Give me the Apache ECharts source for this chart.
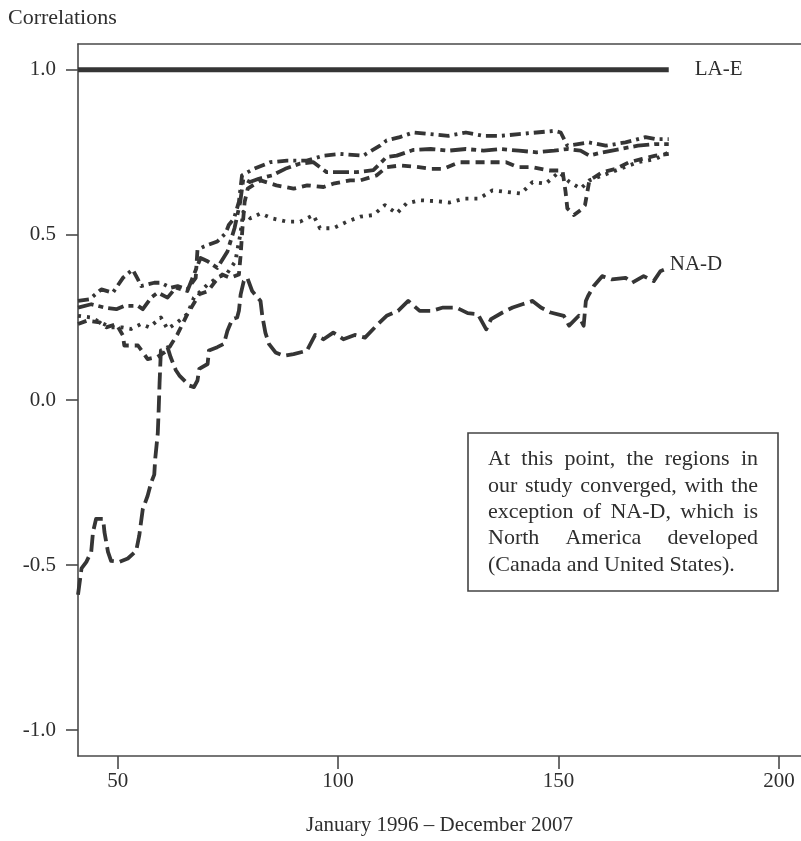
<!DOCTYPE html>
<html>
<head>
<meta charset="utf-8">
<script src="https://cdn.jsdelivr.net/npm/echarts@6/dist/echarts.min.js"></script>
<style>
html,body{margin:0;padding:0;background:#fff;}
#chart{width:801px;height:841px;}
</style>
</head>
<body>
<div id="chart"></div>
<script>
// ---- data ----
const xTicks = [50, 100, 150, 200];
const yTicks = [-1, -0.5, 0, 0.5, 1];

const laE = [[41, 1], [60, 1], [80, 1], [100, 1], [120, 1], [140, 1], [160, 1], [175, 1]];

const naD = [[41,-0.59],[41.8,-0.51],[42.9,-0.49],[44,-0.46],[44.4,-0.40],[45.1,-0.36],[46.7,-0.36],[47,-0.40],[47.8,-0.46],[48.5,-0.487],[50.4,-0.49],[52.3,-0.48],[54.2,-0.457],[54.9,-0.41],[55.7,-0.33],[56.8,-0.29],[57.6,-0.25],[58.3,-0.226],[58.5,-0.18],[59.1,-0.10],[59.3,-0.03],[59.5,0.05],[59.8,0.15],[60.3,0.15],[61.3,0.16],[62,0.13],[63.2,0.09],[64,0.074],[66.2,0.044],[67.3,0.039],[68.1,0.059],[68.5,0.094],[70.4,0.109],[70.7,0.15],[72.6,0.16],[74.1,0.17],[74.9,0.21],[76,0.245],[77.1,0.25],[77.5,0.27],[77.9,0.32],[78.6,0.36],[79.4,0.37],[80.5,0.33],[82.4,0.30],[82.8,0.255],[83.5,0.204],[84.3,0.17],[85.8,0.144],[87.6,0.134],[89.9,0.139],[92.9,0.149],[94.8,0.197],[96.7,0.184],[98.9,0.204],[101.2,0.184],[103.8,0.197],[106.1,0.189],[108.7,0.225],[111,0.255],[113.6,0.27],[115.9,0.30],[118.5,0.27],[121.2,0.27],[123.8,0.28],[126.8,0.28],[129.4,0.263],[131.7,0.26],[133.6,0.214],[134.7,0.245],[137.3,0.265],[139.6,0.28],[141.8,0.29],[144.1,0.30],[146,0.28],[148.2,0.265],[151.2,0.255],[152.4,0.225],[154.6,0.255],[155.7,0.225],[156.2,0.30],[156.7,0.315],[158,0.345],[159.9,0.375],[162.1,0.365],[165.2,0.37],[166.7,0.355],[169.3,0.375],[171.6,0.36],[173.1,0.39],[175,0.40]];

const s1 = [[41,0.30],[43.6,0.305],[46.3,0.335],[48.9,0.325],[51.2,0.37],[53.4,0.395],[54.6,0.365],[55.3,0.345],[58.3,0.355],[59.8,0.355],[62,0.34],[63.6,0.345],[65.8,0.335],[67.7,0.37],[68.1,0.455],[69.6,0.465],[72.6,0.48],[74.5,0.505],[75.2,0.53],[76.4,0.55],[77.5,0.60],[78.2,0.68],[79.5,0.69],[80.9,0.70],[84.6,0.72],[88.4,0.725],[92.9,0.725],[96.7,0.74],[100.4,0.745],[105.7,0.74],[109.5,0.77],[111,0.786],[114,0.796],[117,0.81],[121,0.805],[125,0.80],[129,0.81],[133,0.80],[137,0.80],[141,0.805],[145,0.81],[149,0.815],[150.5,0.81],[152,0.77],[156.9,0.78],[160.7,0.77],[165.2,0.78],[169.7,0.796],[172,0.79],[175,0.79]];

const s2 = [[41,0.28],[44,0.29],[47,0.28],[49.7,0.275],[51.5,0.285],[54.6,0.285],[55.7,0.275],[57.6,0.31],[59.1,0.325],[61.3,0.31],[63.2,0.34],[65.8,0.33],[68.8,0.43],[70.4,0.42],[72.6,0.40],[74.9,0.45],[76.5,0.52],[77.8,0.60],[78.5,0.67],[80,0.66],[82,0.67],[85,0.68],[88,0.70],[91.4,0.716],[94.4,0.72],[97.4,0.69],[101.2,0.69],[104.2,0.69],[108,0.696],[111,0.736],[113.3,0.74],[117,0.757],[121,0.76],[125,0.755],[129,0.76],[133,0.755],[137,0.76],[141,0.755],[145,0.75],[149,0.755],[152,0.76],[155,0.755],[157,0.74],[160,0.75],[164,0.76],[168,0.77],[172,0.775],[175,0.775]];

const s3 = [[41,0.23],[43,0.24],[45.9,0.235],[47.4,0.22],[49.7,0.23],[51.2,0.195],[51.5,0.165],[54.6,0.165],[56.8,0.124],[59,0.13],[61.3,0.15],[63.6,0.20],[65.8,0.26],[68.5,0.32],[70.5,0.33],[72.2,0.36],[73.7,0.38],[75.5,0.37],[77.5,0.38],[77.9,0.44],[78.3,0.52],[78.8,0.60],[79.5,0.64],[82.4,0.665],[86,0.65],[89.9,0.64],[93,0.65],[96.7,0.645],[98.9,0.655],[102.7,0.665],[105,0.665],[108.7,0.68],[111,0.705],[114,0.71],[117.8,0.706],[121.2,0.70],[123.8,0.70],[127.5,0.72],[131.3,0.72],[134.3,0.72],[138.1,0.72],[140.7,0.705],[144.1,0.705],[147.9,0.695],[150.9,0.695],[151.6,0.63],[152,0.58],[153.5,0.56],[155,0.575],[156,0.59],[157,0.665],[160,0.69],[163,0.70],[166,0.72],[169,0.73],[172,0.74],[175,0.745]];

const s4 = [[41,0.255],[44,0.25],[46,0.235],[48.5,0.22],[51,0.22],[53,0.215],[55.3,0.23],[57.2,0.22],[59.8,0.25],[61.3,0.215],[63.5,0.235],[65.8,0.26],[67.3,0.31],[70.4,0.35],[72.6,0.37],[74.9,0.385],[76.7,0.42],[77.1,0.45],[77.8,0.50],[78.5,0.57],[80.1,0.55],[82.4,0.565],[85,0.55],[88.4,0.54],[91.4,0.54],[94.4,0.56],[95.9,0.52],[98.9,0.52],[102,0.54],[105,0.555],[108,0.56],[110.6,0.59],[113.3,0.565],[115.5,0.595],[118.5,0.605],[122.3,0.602],[125.3,0.598],[128.7,0.61],[132,0.61],[135,0.635],[138.1,0.63],[141.5,0.625],[144.1,0.66],[147.1,0.655],[150.1,0.69],[152.5,0.66],[155,0.64],[157,0.665],[160,0.68],[164,0.70],[168,0.72],[172,0.73],[175,0.75]];

const yTitle = "Correlations";
const xTitle = "January 1996 \u2013 December 2007";
const boxLines = ["At this point, the regions in", "our study converged, with the", "exception of NA-D, which is", "North America developed", "(Canada and United States)."];

// ---- chart ----
const FONT = '"Liberation Serif", "Times New Roman", serif';
const INK = '#353535';
const TXT = '#2e2e2e';
const AX = '#4a4a4a';

function justifyLine(line, left, width, fontPx, last) {
  const c = document.createElement('canvas').getContext('2d');
  c.font = fontPx + 'px "Liberation Serif"';
  const words = line.split(' ');
  if (last || words.length < 2) return [{ t: line, x: left }];
  const ww = words.map(w => c.measureText(w).width);
  const total = ww.reduce((a, b) => a + b, 0);
  const gap = (width - total) / (words.length - 1);
  const out = []; let x = left;
  words.forEach((w, i) => { out.push({ t: w, x: x }); x += ww[i] + gap; });
  return out;
}

const box = { x: 468, y: 433, w: 310, h: 158, padL: 20, padR: 20, first: 459.5, step: 26.4, font: 22 };
const boxGraphics = [{
  type: 'rect', shape: { x: box.x, y: box.y, width: box.w, height: box.h },
  style: { fill: 'transparent', stroke: '#444', lineWidth: 1.6 }
}];
boxLines.forEach((ln, i) => {
  const parts = justifyLine(ln, box.x + box.padL, box.w - box.padL - box.padR, box.font, i === boxLines.length - 1);
  parts.forEach(p => boxGraphics.push({
    type: 'text', x: p.x, y: box.first + i * box.step,
    style: { text: p.t, font: box.font + 'px "Liberation Serif"', fill: TXT, textVerticalAlign: 'middle', textAlign: 'left' }
  }));
});

function lineSeries(name, data, dash, width, endLbl) {
  const s = {
    name: name, type: 'line', data: data, showSymbol: false, symbol: 'none',
    animation: false, silent: true, xAxisIndex: 0, yAxisIndex: 0,
    lineStyle: { color: INK, width: width, type: dash, cap: 'butt', join: 'round' }
  };
  if (endLbl) s.endLabel = Object.assign({ show: true, formatter: name, fontFamily: FONT, fontSize: 21, color: TXT }, endLbl);
  return s;
}

const chart = echarts.init(document.getElementById('chart'), null, { renderer: 'canvas' });
chart.setOption({
  backgroundColor: '#ffffff',
  animation: false,
  grid: { left: 78, top: 44, width: 727, height: 717, show: false },
  xAxis: [{
    type: 'value', min: 41, max: 205, position: 'bottom',
    axisLine: { show: true, onZero: false, lineStyle: { color: AX, width: 1.6 } },
    axisTick: { show: true, length: 13, customValues: xTicks, lineStyle: { color: AX, width: 1.6 } },
    axisLabel: { customValues: xTicks, fontFamily: FONT, fontSize: 21, color: TXT, margin: 15 },
    splitLine: { show: false },
    name: xTitle, nameLocation: 'middle', nameGap: 59,
    nameTextStyle: { fontFamily: FONT, fontSize: 21, color: TXT }
  }, {
    type: 'value', min: 41, max: 205, position: 'top',
    axisLine: { show: true, onZero: false, lineStyle: { color: AX, width: 1.6 } },
    axisTick: { show: false }, axisLabel: { show: false }, splitLine: { show: false }
  }],
  yAxis: {
    type: 'value', min: -1.078, max: 1.078,
    axisLine: { show: true, onZero: false, lineStyle: { color: AX, width: 1.6 } },
    axisTick: { show: true, length: 12, customValues: yTicks, lineStyle: { color: AX, width: 1.6 } },
    axisLabel: { customValues: yTicks, fontFamily: FONT, fontSize: 21, color: TXT, margin: 22, formatter: v => v.toFixed(1) },
    splitLine: { show: false }
  },
  graphic: [
    { type: 'text', left: 8, top: 7, style: { text: yTitle, font: '22px "Liberation Serif"', fill: TXT } }
  ].concat(boxGraphics),
  series: [
    lineSeries('LA-E', laE, 'solid', 5, { distance: 26 }),
    lineSeries('S1', s1, [11, 5, 3, 5], 3.8),
    lineSeries('S2', s2, [16, 5, 5, 5], 3.8),
    lineSeries('S3', s3, [9, 6], 3.8),
    lineSeries('S4', s4, [3, 6], 3.8),
    lineSeries('NA-D', naD, [17, 6], 3.8, { distance: 1, offset: [0, -3] })
  ]
});
</script>
</body>
</html>
